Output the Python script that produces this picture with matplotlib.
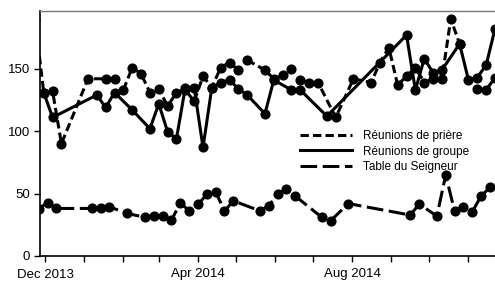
import matplotlib
matplotlib.use("Agg")
import matplotlib.pyplot as plt
import matplotlib.dates as mdates
from matplotlib.lines import Line2D
import pandas as pd

plt.rcParams['font.family'] = ['Liberation Sans', 'DejaVu Sans']
plt.rcParams['lines.scale_dashes'] = False

# ---------------- data ----------------
labels = ["Réunions de prière", "Réunions de groupe", "Table du Seigneur"]

prayer_dates = ["2013-11-23", "2013-11-30", "2013-12-07", "2013-12-14", "2014-01-04",
                "2014-01-18", "2014-01-25", "2014-02-01", "2014-02-08", "2014-02-15",
                "2014-02-22", "2014-03-01", "2014-03-08", "2014-03-15", "2014-03-22",
                "2014-03-29", "2014-04-05", "2014-04-12", "2014-04-19", "2014-04-26",
                "2014-05-03", "2014-05-10", "2014-05-24", "2014-05-31", "2014-06-07",
                "2014-06-14", "2014-06-21", "2014-06-28", "2014-07-05", "2014-07-19",
                "2014-08-02", "2014-08-16", "2014-08-23", "2014-08-30", "2014-09-06",
                "2014-09-13", "2014-09-20", "2014-09-27", "2014-10-04", "2014-10-11",
                "2014-10-18", "2014-10-25", "2014-11-08", "2014-11-15", "2014-11-22"]
prayer_vals = [190, 131, 132, 90, 142,
               142, 142, 133, 151, 146,
               131, 134, 120, 131, 133,
               124, 144, 135, 151, 155,
               149, 157, 149, 142, 145,
               150, 141, 139, 139, 111,
               142, 139, 155, 167, 137,
               144, 151, 139, 142, 142,
               190, 170, 134, 133, 143]
prayer_breaks = ["2014-01-25", "2014-05-03", "2014-06-14", "2014-10-25"]

group_dates = ["2013-11-30", "2013-12-07", "2014-01-11", "2014-01-18", "2014-01-25",
               "2014-02-08", "2014-02-22", "2014-03-01", "2014-03-08", "2014-03-15",
               "2014-03-22", "2014-03-29", "2014-04-05", "2014-04-12", "2014-04-19",
               "2014-04-26", "2014-05-03", "2014-05-10", "2014-05-24", "2014-05-31",
               "2014-06-14", "2014-06-21", "2014-07-12", "2014-09-13", "2014-09-20",
               "2014-09-27", "2014-10-04", "2014-10-11", "2014-10-25", "2014-11-01",
               "2014-11-08", "2014-11-15", "2014-11-22"]
group_vals = [131, 111, 129, 119, 131,
              117, 102, 122, 99.5, 94,
              135, 135, 87, 135, 139,
              141, 134, 129, 114, 141,
              133, 133, 112, 177, 133,
              158, 147, 149, 170, 141,
              143, 153, 182]

table_dates = ["2013-11-26", "2013-12-03", "2013-12-10", "2014-01-07", "2014-01-14",
               "2014-01-21", "2014-02-04", "2014-02-18", "2014-02-25", "2014-03-04",
               "2014-03-11", "2014-03-18", "2014-03-25", "2014-04-01", "2014-04-08",
               "2014-04-15", "2014-04-22", "2014-04-29", "2014-05-20", "2014-05-27",
               "2014-06-03", "2014-06-10", "2014-06-17", "2014-07-08", "2014-07-15",
               "2014-07-29", "2014-09-16", "2014-09-23", "2014-10-07", "2014-10-14",
               "2014-10-21", "2014-10-28", "2014-11-04", "2014-11-11", "2014-11-18"]
table_vals = [38, 42.6, 38.1, 38.1, 38.1,
              39.4, 34.1, 31, 32, 32,
              28.5, 42.6, 36.2, 41.3, 49.4,
              51.4, 36, 44.2, 36.2, 40.2,
              49.6, 53.4, 48, 31, 28.3,
              42, 32.8, 41.6, 32, 64.8,
              36.2, 39.4, 35.4, 48, 55]

yticks = [0, 50, 100, 150]
xlabel_months = [12, 4, 8]

# ---------------- figure ----------------
W, H = 495, 283
fig = plt.figure(figsize=(W / 100, H / 100), dpi=100)
ax = fig.add_axes([40 / W, (H - 256) / H, (W - 40) / W, (256 - 11) / H])

LW = 2.2
MS = 6.3
styles = {
    "prayer": (0, (6, 3)),
    "group": "-",
    "table": (0, (12, 4)),
}


def segments(dates, vals, breaks):
    d = pd.to_datetime(dates)
    bset = set(pd.to_datetime(breaks))
    segs, cur_d, cur_v = [], [], []
    for di, vi in zip(d, vals):
        cur_d.append(di)
        cur_v.append(vi)
        if di in bset:
            segs.append((cur_d, cur_v))
            cur_d, cur_v = [], []
    if cur_d:
        segs.append((cur_d, cur_v))
    return segs


for dates, vals, brk, key in [
    (group_dates, group_vals, [], "group"),
    (prayer_dates, prayer_vals, prayer_breaks, "prayer"),
    (table_dates, table_vals, [], "table"),
]:
    for sd, sv in segments(dates, vals, brk):
        ax.plot(sd, sv, color="black", lw=LW, ls=styles[key], marker="o",
                ms=MS, mfc="black", mec="black", dash_capstyle="butt")

# axes limits
x0 = pd.Timestamp("2013-12-01")
ax.set_xlim(mdates.date2num(x0 - pd.Timedelta(days=3.96)),
            mdates.date2num(x0 + pd.Timedelta(days=356)))
ax.set_ylim(0, 196.3)

ax.set_yticks(yticks)
ax.xaxis.set_major_locator(mdates.MonthLocator())


def fmt(x, pos):
    d = mdates.num2date(x)
    return d.strftime("%b %Y") if d.month in xlabel_months else ""


ax.xaxis.set_major_formatter(plt.FuncFormatter(fmt))
ax.tick_params(axis="both", labelsize=9.5, length=4, width=1, color="black")
ax.tick_params(axis="x", pad=5)
ax.tick_params(axis="y", pad=3)

for s in ["left", "bottom"]:
    ax.spines[s].set_linewidth(1.2)
    ax.spines[s].set_color("black")
ax.spines["top"].set_color("#777777")
ax.spines["top"].set_linewidth(1)
ax.spines["right"].set_visible(False)

handles = [Line2D([], [], color="black", lw=LW, ls=styles[k], dash_capstyle="butt")
           for k in ["prayer", "group", "table"]]
fig.legend(handles, labels, loc="upper left",
           bbox_to_anchor=(300 / W, 1 - 130 / H), bbox_transform=fig.transFigure,
           frameon=False, fontsize=8.5, handlelength=4.4, handletextpad=0.95,
           labelspacing=0.3, borderpad=0, borderaxespad=0)

fig.savefig("out.png", dpi=100)
